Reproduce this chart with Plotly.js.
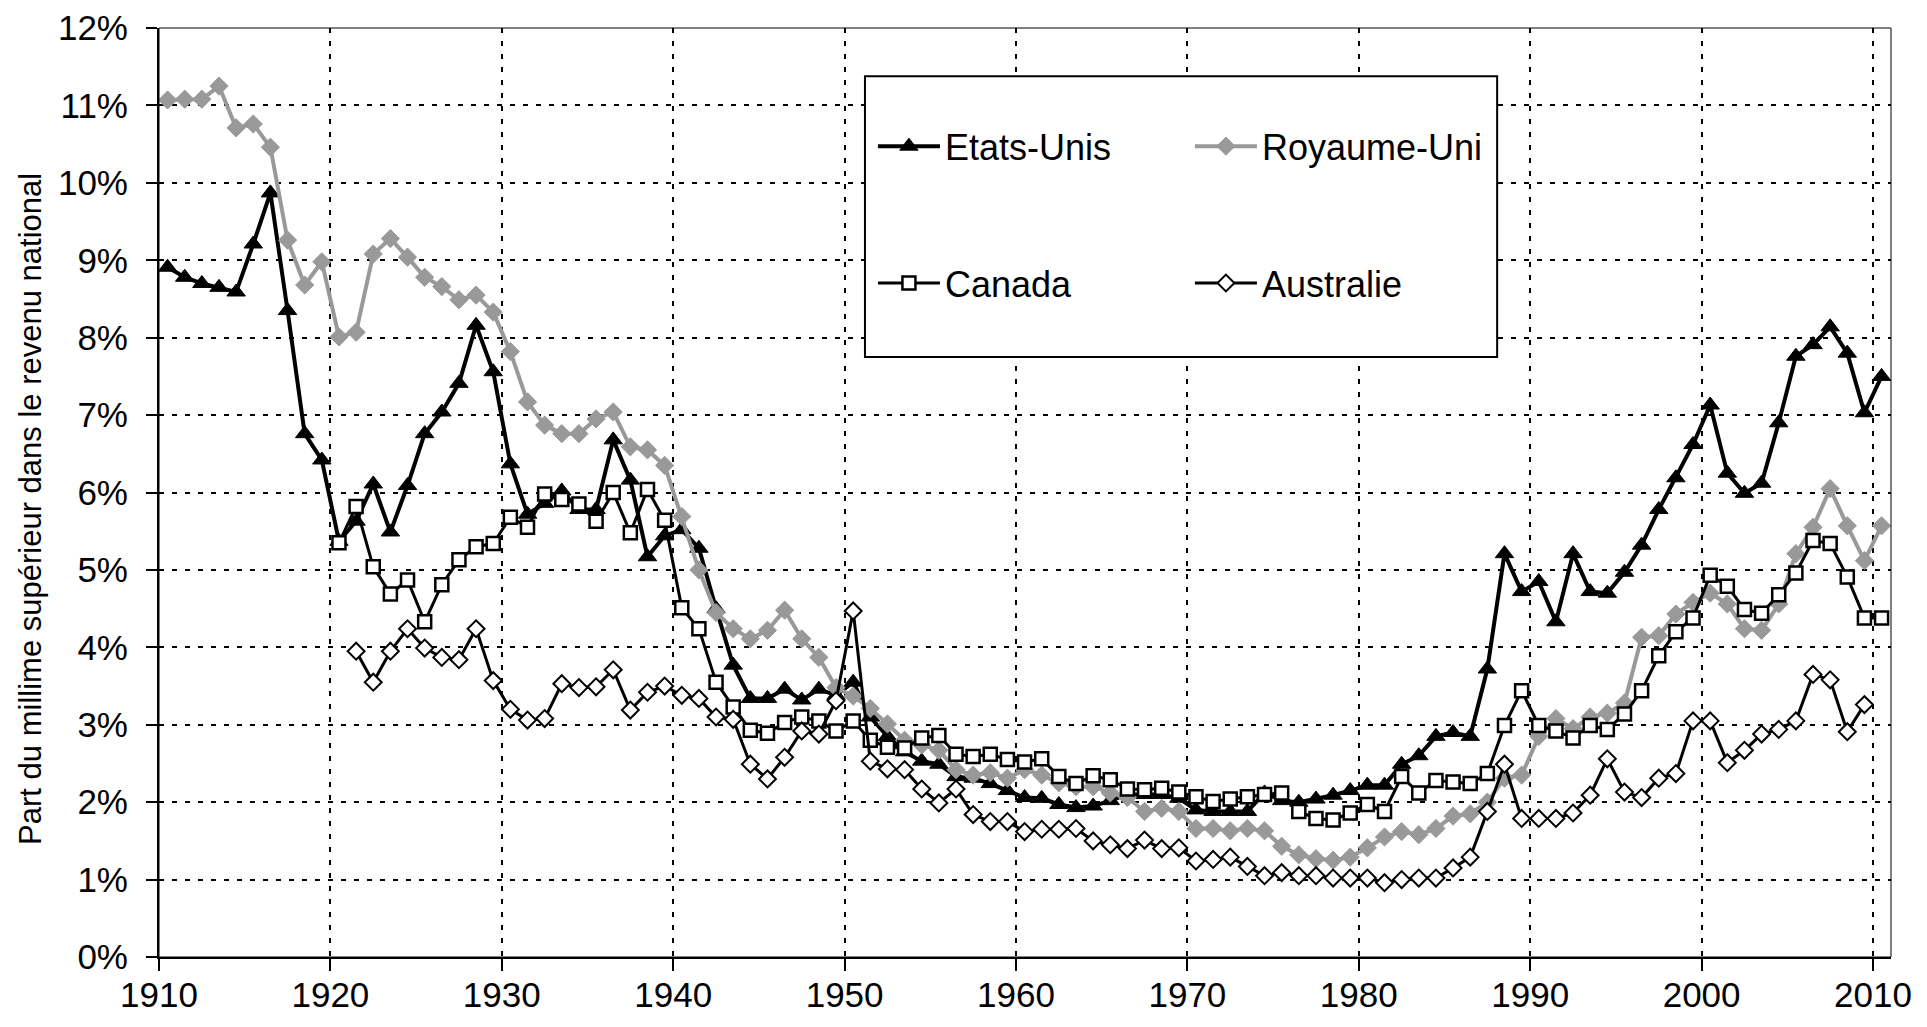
<!DOCTYPE html>
<html>
<head>
<meta charset="utf-8">
<script src="https://cdn.plot.ly/plotly-3.0.1.min.js"></script>
<style>
  html, body { margin: 0; padding: 0; background: #ffffff; }
  #chart { width: 1927px; height: 1027px; }
</style>
</head>
<body>
<div id="chart"></div>
<script>
// ---- Data (share of top 0.1% in national income, %) ----
const yearsUS = [];
for (let y = 1910; y <= 2010; y++) yearsUS.push(y);
const yearsUK = yearsUS.slice();
const yearsCanada = yearsUS.filter(y => y >= 1920);
const yearsAustralia = yearsUS.filter(y => y >= 1921 && y <= 2009);

const etatsUnis = [
  8.91, 8.78, 8.70, 8.65, 8.59, 9.21, 9.87, 8.35, 6.76, 6.42,
  5.37, 5.63, 6.11, 5.49, 6.09, 6.76, 7.04, 7.41, 8.16, 7.56,
  6.37, 5.72, 5.86, 6.02, 5.78, 5.78, 6.68, 6.16, 5.17, 5.44,
  5.52, 5.28, 4.50, 3.77, 3.34, 3.34, 3.46, 3.32, 3.46, 3.38,
  3.55, 3.10, 2.85, 2.65, 2.53, 2.49, 2.33, 2.31, 2.24, 2.15,
  2.06, 2.05, 1.97, 1.93, 1.95, 2.02, 2.10, 2.10, 2.10, 2.05,
  1.90, 1.88, 1.88, 1.88, 2.12, 2.02, 2.00, 2.04, 2.09, 2.15,
  2.22, 2.22, 2.49, 2.60, 2.85, 2.90, 2.85, 3.72, 5.21, 4.72,
  4.85, 4.33, 5.21, 4.72, 4.70, 4.97, 5.32, 5.78, 6.19, 6.62,
  7.13, 6.25, 5.99, 6.12, 6.90, 7.76, 7.91, 8.14, 7.80, 7.03, 7.50
];
const royaumeUni = [
  11.07, 11.08, 11.08, 11.25, 10.71, 10.76, 10.46, 9.26, 8.68, 8.98,
  8.01, 8.07, 9.08, 9.28, 9.04, 8.78, 8.66, 8.49, 8.55, 8.33,
  7.82, 7.17, 6.87, 6.76, 6.76, 6.95, 7.04, 6.59, 6.55, 6.35,
  5.69, 5.00, 4.45, 4.24, 4.11, 4.22, 4.48, 4.11, 3.87, 3.48,
  3.37, 3.21, 3.01, 2.80, 2.74, 2.67, 2.42, 2.35, 2.38, 2.31,
  2.42, 2.35, 2.25, 2.20, 2.20, 2.12, 2.06, 1.88, 1.92, 1.88,
  1.66, 1.66, 1.63, 1.66, 1.63, 1.43, 1.32, 1.27, 1.25, 1.29,
  1.41, 1.55, 1.62, 1.58, 1.66, 1.82, 1.85, 2.00, 2.31, 2.35,
  2.85, 3.08, 2.95, 3.10, 3.15, 3.28, 4.13, 4.15, 4.43, 4.58,
  4.70, 4.56, 4.24, 4.22, 4.56, 5.21, 5.55, 6.05, 5.57, 5.12, 5.57
];
const canada = [
  5.35, 5.82, 5.04, 4.69, 4.87, 4.33, 4.81, 5.13, 5.30, 5.34,
  5.68, 5.55, 5.98, 5.91, 5.85, 5.63, 6.00, 5.48, 6.04, 5.64,
  4.51, 4.24, 3.55, 3.23, 2.93, 2.89, 3.03, 3.10, 3.05, 2.92,
  3.05, 2.80, 2.71, 2.70, 2.83, 2.86, 2.62, 2.59, 2.62, 2.55,
  2.52, 2.56, 2.33, 2.24, 2.34, 2.29, 2.17, 2.16, 2.18, 2.13,
  2.07, 2.01, 2.04, 2.07, 2.10, 2.12, 1.88, 1.79, 1.77, 1.86,
  1.97, 1.88, 2.33, 2.12, 2.28, 2.26, 2.24, 2.37, 2.99, 3.44,
  2.99, 2.92, 2.83, 2.99, 2.94, 3.14, 3.44, 3.89, 4.20, 4.38,
  4.93, 4.79, 4.49, 4.44, 4.68, 4.96, 5.38, 5.34, 4.91, 4.38, 4.38
];
const australie = [
  3.95, 3.55, 3.95, 4.24, 3.99, 3.87, 3.84, 4.24, 3.57,
  3.20, 3.06, 3.08, 3.53, 3.48, 3.49, 3.71, 3.19, 3.42, 3.50,
  3.38, 3.34, 3.10, 3.07, 2.49, 2.30, 2.58, 2.92, 2.88, 3.31,
  4.47, 2.53, 2.43, 2.42, 2.17, 1.99, 2.17, 1.84, 1.75, 1.75,
  1.62, 1.65, 1.65, 1.66, 1.50, 1.45, 1.40, 1.51, 1.40, 1.41,
  1.24, 1.26, 1.29, 1.17, 1.05, 1.09, 1.05, 1.05, 1.02, 1.02,
  1.02, 0.96, 1.00, 1.02, 1.02, 1.15, 1.29, 1.88, 2.49, 1.79,
  1.79, 1.79, 1.86, 2.09, 2.56, 2.13, 2.06, 2.31, 2.37, 3.05,
  3.05, 2.51, 2.67, 2.88, 2.94, 3.05, 3.65, 3.58, 2.91, 3.26
];

const xTickYears = [1910, 1920, 1930, 1940, 1950, 1960, 1970, 1980, 1990, 2000, 2010];
const yTickValues = [0, 1, 2, 3, 4, 5, 6, 7, 8, 9, 10, 11, 12];

const seriesNames = ['Etats-Unis', 'Royaume-Uni', 'Canada', 'Australie'];
const yTitle = 'Part du millime supérieur dans le revenu national';

// Each yearly value is plotted at the middle of its year (category) band.
const mid = arr => arr.map(y => y + 0.5);

const FONT = 'Liberation Sans, Arial, Helvetica, sans-serif';

const traces = [
  {
    x: mid(yearsUS), y: etatsUnis, name: seriesNames[0], type: 'scatter', mode: 'lines+markers',
    line: { color: '#000000', width: 4 },
    marker: { symbol: 'triangle-up', size: 16, color: '#000000', line: { color: '#000000', width: 1 } },
    cliponaxis: false, legend: 'legend'
  },
  {
    x: mid(yearsUK), y: royaumeUni, name: seriesNames[1], type: 'scatter', mode: 'lines+markers',
    line: { color: '#999999', width: 4 },
    marker: { symbol: 'diamond', size: 14, color: '#999999', line: { color: '#999999', width: 1 } },
    cliponaxis: false, legend: 'legend'
  },
  {
    x: mid(yearsCanada), y: canada, name: seriesNames[2], type: 'scatter', mode: 'lines+markers',
    line: { color: '#000000', width: 3 },
    marker: { symbol: 'square', size: 13, color: '#ffffff', line: { color: '#000000', width: 2.5 } },
    cliponaxis: false, legend: 'legend2'
  },
  {
    x: mid(yearsAustralia), y: australie, name: seriesNames[3], type: 'scatter', mode: 'lines+markers',
    line: { color: '#000000', width: 3 },
    marker: { symbol: 'diamond', size: 13, color: '#ffffff', line: { color: '#000000', width: 2 } },
    cliponaxis: false, legend: 'legend2'
  }
];

const layout = {
  width: 1927, height: 1027,
  margin: { l: 159, r: 36, t: 28, b: 70, pad: 0 },
  paper_bgcolor: '#ffffff', plot_bgcolor: '#ffffff',
  font: { family: FONT, color: '#000000', size: 35 },
  showlegend: true,
  xaxis: {
    range: [1910, 2011.05], autorange: false,
    tickmode: 'array', tickvals: xTickYears, ticktext: xTickYears.map(String),
    ticks: 'outside', ticklen: 12, tickwidth: 2, tickcolor: '#000000',
    ticklabelshift: 8.5, ticklabelstandoff: -6,
    tickfont: { family: FONT, size: 35, color: '#000000' },
    showline: true, linecolor: '#000000', linewidth: 2,
    showgrid: true, gridcolor: '#000000', gridwidth: 2, griddash: '5px,8px',
    zeroline: false
  },
  yaxis: {
    range: [0, 12], autorange: false,
    tickmode: 'array', tickvals: yTickValues, ticktext: yTickValues.map(v => v + '%'),
    ticks: 'outside', ticklen: 11, tickwidth: 2, tickcolor: '#000000',
    ticklabelstandoff: 11,
    tickfont: { family: FONT, size: 35, color: '#000000' },
    showline: true, linecolor: '#000000', linewidth: 2,
    showgrid: true, gridcolor: '#000000', gridwidth: 2, griddash: '5px,8px',
    zeroline: false
  },
  annotations: [
    { text: yTitle, textangle: -90, xref: 'paper', yref: 'paper',
      x: -0.0741, y: 0.482, xanchor: 'center', yanchor: 'middle', showarrow: false,
      font: { family: FONT, size: 31, color: '#000000' } }
  ],
  legend: {
    orientation: 'h', x: 0.4122, xanchor: 'left', y: 0.8727, yanchor: 'middle',
    bgcolor: 'rgba(0,0,0,0)', borderwidth: 0,
    font: { family: FONT, size: 36, color: '#000000' },
    itemwidth: 62, entrywidth: 240, entrywidthmode: 'pixels', traceorder: 'normal'
  },
  legend2: {
    orientation: 'h', x: 0.4122, xanchor: 'left', y: 0.7254, yanchor: 'middle',
    bgcolor: 'rgba(0,0,0,0)', borderwidth: 0,
    font: { family: FONT, size: 36, color: '#000000' },
    itemwidth: 62, entrywidth: 240, entrywidthmode: 'pixels', traceorder: 'normal'
  },
  shapes: [
    { type: 'rect', xref: 'paper', yref: 'paper', x0: 0, x1: 1, y0: 0, y1: 1,
      line: { color: '#000000', width: 1 }, fillcolor: 'rgba(0,0,0,0)', layer: 'above' },
    { type: 'rect', xref: 'paper', yref: 'paper', x0: 0.4076, x1: 0.7726, y0: 0.6458, y1: 0.948,
      line: { color: '#000000', width: 2 }, fillcolor: '#ffffff', layer: 'above' }
  ]
};

Plotly.newPlot('chart', traces, layout, { displayModeBar: false, staticPlot: true });
</script>
</body>
</html>
